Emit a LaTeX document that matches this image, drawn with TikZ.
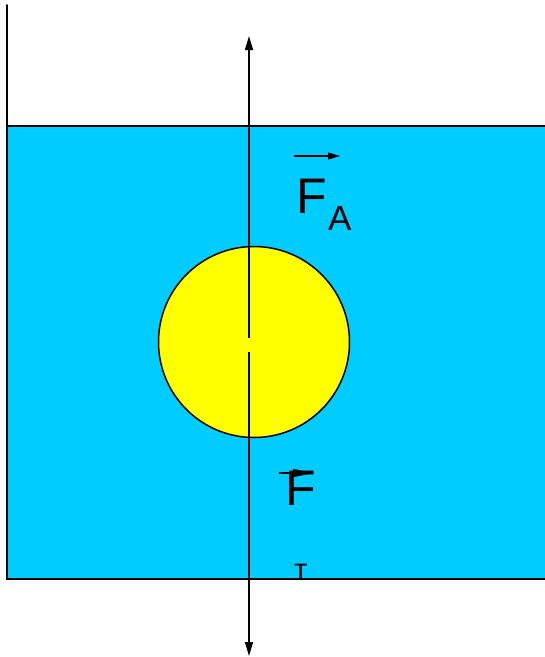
\documentclass[tikz,border=0pt]{standalone}
\usepackage{fontspec}
\setmainfont{Liberation Sans}
\usetikzlibrary{arrows.meta}

\definecolor{water}{HTML}{00CCFF}
\definecolor{ball}{HTML}{FFFF00}

\begin{document}
\begin{tikzpicture}[
    x=1pt, y=-1pt,
    wall/.style={line width=2pt, line cap=round},
    force/.style={line width=1.6pt, -{Triangle[width=8pt,length=14pt]}},
    vecbar/.style={line width=1.4pt, -{Triangle[width=7pt,length=12pt]}},
    letter/.style={inner sep=0pt, anchor=base west, font=\fontsize{50}{50}\selectfont},
    index/.style={inner sep=0pt, anchor=base west, font=\fontsize{35}{35}\selectfont}
]
    \useasboundingbox (0,0) rectangle (545,657);

    % vessel with water
    \fill[water] (7,126) rectangle (545,579);
    \draw[wall] (7,5) -- (7,579) -- (545,579);
    \draw[wall] (7,126) -- (545,126);

    % ball
    \coordinate (O) at (254,342);
    \draw[line width=1.5pt, fill=ball] (O) circle (95.5);

    % forces
    \coordinate (C1) at (249,338);
    \coordinate (C2) at (249,352);
    \coordinate (Top) at (249,36);
    \coordinate (Bot) at (249,656);
    \draw[force] (C1) -- (Top);
    \draw[force] (C2) -- (Bot);

    \node[letter] (FA) at (296,213) {F};
    \node[index] (Asub) at (328,230) {A};
    \coordinate (a1) at (294,156);
    \coordinate (a2) at (340,156);
    \draw[vecbar] (a1) -- (a2);

    \node[letter] (Ft) at (285,505) {F};
    \node[index, font=\fontsize{29}{29}\selectfont] (tsub) at (294,579) {т};
    \coordinate (b1) at (279,473);
    \coordinate (b2) at (314,473);
    \draw[line width=1.4pt, -{Triangle[width=8pt,length=21pt]}] (b1) -- (b2);

\end{tikzpicture}
\end{document}
